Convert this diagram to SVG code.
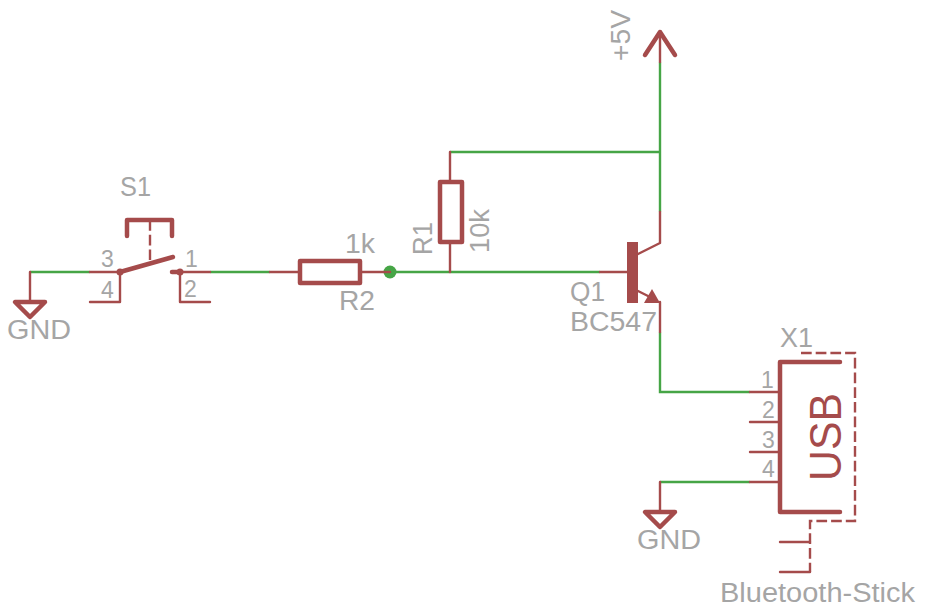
<svg xmlns="http://www.w3.org/2000/svg" width="931" height="611" viewBox="0 0 931 611">
<style>
text{font-family:"Liberation Sans",Arial,sans-serif;fill:#a5a5a5;font-size:27px}
.p{font-size:23px}
.w{stroke:#46a546;stroke-width:2.400;fill:none}
.r{stroke:#a54b4b;stroke-width:2.400;fill:none;stroke-linecap:round;stroke-linejoin:round}
.t{stroke:#a54b4b;stroke-width:4.500;fill:none;stroke-linecap:round;stroke-linejoin:round}
.d{stroke:#a54b4b;stroke-width:2.400;fill:none;stroke-dasharray:10.700 4}
</style>
<rect width="931" height="611" fill="#fff"/>
<g id="connectors">
<path class="w" d="M30 272H90M210 272H270M390 272H600M450 152H660M660 62V212M660 332V392H750M750 482H660"/>
<circle cx="390" cy="272" r="6.500" fill="#46a546"/>
</g>
<g id="S1">
<path class="t" d="M127 236V220H172V236"/>
<path class="d" d="M150 220V262"/>
<path class="r" d="M90 272H120V302H90M180 272H210M180 272V302H210"/>
<path class="t" d="M120 272L173 257M172 272H180"/>
<circle cx="120" cy="272" r="3.500" fill="#a54b4b"/>
<circle cx="180" cy="272" r="3.500" fill="#a54b4b"/>
<text x="120" y="196" textLength="31" lengthAdjust="spacingAndGlyphs">S1</text>
<text class="p" x="101" y="267">3</text>
<text class="p" x="101" y="298">4</text>
<text class="p" x="185" y="267">1</text>
<text class="p" x="184" y="297">2</text>
</g>
<g id="GND1">
<path class="r" d="M30 272V302"/>
<path class="t" d="M15 302H45L30 317Z"/>
<text x="7" y="339" textLength="64" lengthAdjust="spacingAndGlyphs">GND</text>
</g>
<g id="R2">
<path class="r" d="M270 272H300M360 272H390"/>
<rect x="300" y="261" width="60" height="22" class="t"/>
<text x="345" y="253" textLength="30" lengthAdjust="spacingAndGlyphs">1k</text>
<text x="339" y="310" textLength="36" lengthAdjust="spacingAndGlyphs">R2</text>
</g>
<g id="R1">
<path class="r" d="M450 152V181M450 242V272"/>
<rect x="440" y="182" width="22" height="60" class="t"/>
<text transform="translate(432 255) rotate(-90)" textLength="33" lengthAdjust="spacingAndGlyphs">R1</text>
<text transform="translate(489 253) rotate(-90)" textLength="44" lengthAdjust="spacingAndGlyphs">10k</text>
</g>
<g id="Q1">
<path class="r" d="M600 272H630M638 254L660 243V212M638 291L650 297M660 302V332"/>
<rect x="627" y="242" width="11" height="61" fill="#a54b4b"/>
<path d="M644 303L652 289L660 303Z" fill="#a54b4b"/>
<text x="570" y="301" textLength="35" lengthAdjust="spacingAndGlyphs">Q1</text>
<text x="570" y="331" textLength="87" lengthAdjust="spacingAndGlyphs">BC547</text>
</g>
<g id="P5V">
<path class="r" d="M660 62V32"/>
<path class="t" d="M645 55L660 32L675 55"/>
<text transform="translate(630 61) rotate(-90)" textLength="51" lengthAdjust="spacingAndGlyphs">+5V</text>
</g>
<g id="X1">
<path class="r" d="M750 392H780M750 422H780M750 452H780M750 482H780"/>
<path class="t" d="M840 362H780V512H840"/>
<path class="d" d="M801 353H855V521H810V572"/>
<path class="r" d="M780 542H810M780 572H810"/>
<text x="780" y="347" textLength="33" lengthAdjust="spacingAndGlyphs">X1</text>
<text class="p" x="761" y="388">1</text>
<text class="p" x="762" y="418">2</text>
<text class="p" x="762" y="448">3</text>
<text class="p" x="762" y="477">4</text>
<text transform="translate(841 481) rotate(-90)" textLength="88" lengthAdjust="spacingAndGlyphs" style="font-size:45px;fill:#a54b4b">USB</text>
<text x="720" y="602" textLength="195" lengthAdjust="spacingAndGlyphs">Bluetooth-Stick</text>
</g>
<g id="GND2">
<path class="r" d="M660 482V512"/>
<path class="t" d="M645 512H675L660 527Z"/>
<text x="637" y="549" textLength="64" lengthAdjust="spacingAndGlyphs">GND</text>
</g>
</svg>
